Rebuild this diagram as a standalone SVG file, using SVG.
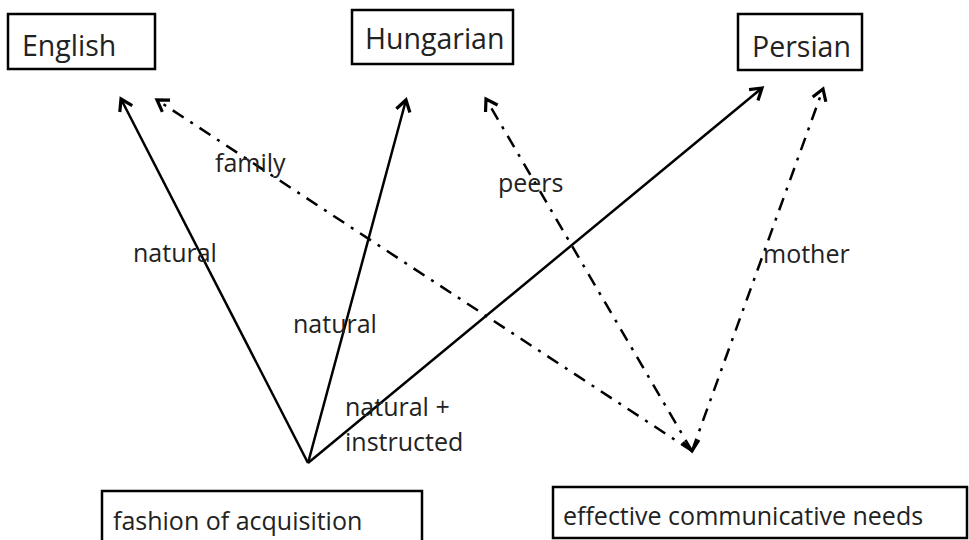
<svg xmlns="http://www.w3.org/2000/svg" width="969" height="540" viewBox="0 0 969 540">
<style>
.box{fill:#fff;stroke:#000;stroke-width:2.5}
.t{font-family:"Open Sans","Liberation Sans",sans-serif;font-size:25px;fill:#222}
.bt{font-size:28.5px}
.solid{fill:none;stroke:#000;stroke-width:2.5}
.dash{fill:none;stroke:#000;stroke-width:2.5;stroke-dasharray:13 8 3 8}
</style>
<defs>
<marker id="ah" markerUnits="userSpaceOnUse" markerWidth="20" markerHeight="20" refX="14" refY="10" orient="auto" overflow="visible">
<path d="M3,3 L14,10 L3,17" fill="none" stroke="#000" stroke-width="3.2" stroke-dasharray="none" stroke-linejoin="miter"/>
</marker>
</defs>
<rect width="969" height="540" fill="#fff"/>
<g id="connectors">
<line class="solid" x1="308" y1="463" x2="121" y2="99" marker-end="url(#ah)"/>
<line class="solid" x1="308" y1="463" x2="406" y2="100" marker-end="url(#ah)"/>
<line class="solid" x1="308" y1="463" x2="762" y2="88" marker-end="url(#ah)"/>
<line class="dash" x1="692" y1="451" x2="157" y2="100" marker-end="url(#ah)"/>
<line class="dash" x1="692" y1="451" x2="486" y2="99" marker-end="url(#ah)"/>
<line class="dash" x1="692" y1="451" x2="823" y2="89" marker-end="url(#ah)"/>
<polyline points="683,442 692,451 699,440" fill="none" stroke="#000" stroke-width="3"/>
</g>
<g id="english"><rect class="box" x="8" y="14" width="147" height="55"/><text class="t bt" x="22" y="56">English</text></g>
<g id="hungarian"><rect class="box" x="352" y="10" width="161" height="54"/><text class="t bt" x="365" y="49">Hungarian</text></g>
<g id="persian"><rect class="box" x="738" y="14" width="124" height="56"/><text class="t bt" x="752" y="57">Persian</text></g>
<g id="fashion"><rect class="box" x="102" y="491" width="320" height="60"/><text class="t" x="113" y="530">fashion of acquisition</text></g>
<g id="needs"><rect class="box" x="553" y="487" width="414" height="51"/><text class="t" x="563" y="525">effective communicative needs</text></g>
<g id="labels">
<text class="t" x="215" y="172">family</text>
<text class="t" x="498" y="192">peers</text>
<text class="t" x="763" y="263">mother</text>
<text class="t" x="133" y="262">natural</text>
<text class="t" x="293" y="333">natural</text>
<text class="t" x="345" y="416">natural +</text>
<text class="t" x="345" y="451">instructed</text>
</g>
</svg>
